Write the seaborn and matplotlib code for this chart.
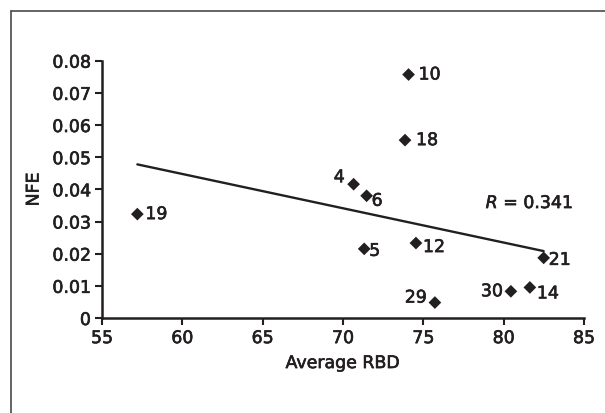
import numpy as np
import pandas as pd
import seaborn as sns
import matplotlib.pyplot as plt
import matplotlib.patheffects as pe
from matplotlib.lines import Line2D

# values
labels = ["10", "18", "4", "6", "5", "12", "21", "29", "30", "14", "19"]
avg_rbd = [74.08, 73.86, 70.66, 71.47, 71.32, 74.54, 82.49, 75.72, 80.45, 81.63, 57.2]
nfe = [0.0757, 0.0553, 0.0416, 0.0380, 0.0215, 0.0233, 0.0187, 0.0048, 0.0083, 0.0095, 0.0323]
x_ticks = [55, 60, 65, 70, 75, 80, 85]
y_ticks = [0, 0.01, 0.02, 0.03, 0.04, 0.05, 0.06, 0.07, 0.08]
y_ticklabels = ["0", "0.01", "0.02", "0.03", "0.04", "0.05", "0.06", "0.07", "0.08"]
r_text = "0.341"

# label placement (pixels: dx, dy-up, alignment)
label_pos = {
    "10": (10, 0, "left"), "18": (11, 0, "left"), "4": (-9, 7, "right"),
    "6": (5, -5, "left"), "5": (5, -2, "left"), "12": (7, -4, "left"),
    "21": (5, -2, "left"), "29": (-8, 5, "right"), "30": (-8, 0, "right"),
    "14": (7, -6, "left"), "19": (8, 0, "left"),
}

df = pd.DataFrame({"rbd": avg_rbd, "nfe": nfe, "label": labels})
ink = "#231f20"
heavy = [pe.withStroke(linewidth=0.45, foreground=ink)]  # mimic the medium-weight face

sns.set_style("white")
plt.rcParams["font.family"] = ["DejaVu Sans"]

fig = plt.figure(figsize=(6.05, 4.13), dpi=100)
ax = fig.add_axes([102 / 605, 1 - 318 / 413, (584 - 102) / 605, (318 - 60.7) / 413])

sns.scatterplot(data=df, x="rbd", y="nfe", marker="D", s=42, color=ink,
                edgecolor="none", ax=ax, zorder=3)

# least squares line over the data range
slope, icpt = np.polyfit(df["rbd"], df["nfe"], 1)
xs = np.array([df["rbd"].min(), df["rbd"].max()])
sns.lineplot(x=xs, y=slope * xs + icpt, color=ink, lw=1.7, ax=ax)

for _, row in df.iterrows():
    dx, dy, ha = label_pos[row["label"]]
    ax.annotate(row["label"], (row["rbd"], row["nfe"]), xytext=(dx * 0.72, dy * 0.72),
                textcoords="offset points", ha=ha, va="center", fontsize=12.5,
                color=ink, path_effects=heavy)

ax.text(78.88, 0.0357, "$\\it{R}$ = " + r_text, fontsize=12.5, color=ink,
        ha="left", va="center", path_effects=heavy)

ax.set_xlim(55, 85)
ax.set_ylim(0, 0.08)
ax.set_xticks(x_ticks)
ax.set_yticks(y_ticks)
ax.set_yticklabels(y_ticklabels)
ax.tick_params(axis="both", direction="out", length=5, width=1.5, labelsize=12.5,
               colors=ink, left=True, bottom=True, pad=3)
for lab in ax.get_xticklabels() + ax.get_yticklabels():
    lab.set_path_effects(heavy)
for side in ["top", "right"]:
    ax.spines[side].set_visible(False)
for side in ["left", "bottom"]:
    ax.spines[side].set_linewidth(1.8)
    ax.spines[side].set_color(ink)
ax.set_xlabel("Average RBD", fontsize=12.5, color=ink, labelpad=5, path_effects=heavy)
ax.set_ylabel("NFE", fontsize=12.5, color=ink, labelpad=7, path_effects=heavy)

# outer frame, open on the right and bottom
fig.add_artist(Line2D([11.5 / 605, 11.5 / 605], [0, 1 - 10.5 / 413], color="#4a4a4a", lw=1.2))
fig.add_artist(Line2D([11.5 / 605, 1], [1 - 10.5 / 413, 1 - 10.5 / 413], color="#4a4a4a", lw=1.2))

fig.savefig("out.png", dpi=100)
